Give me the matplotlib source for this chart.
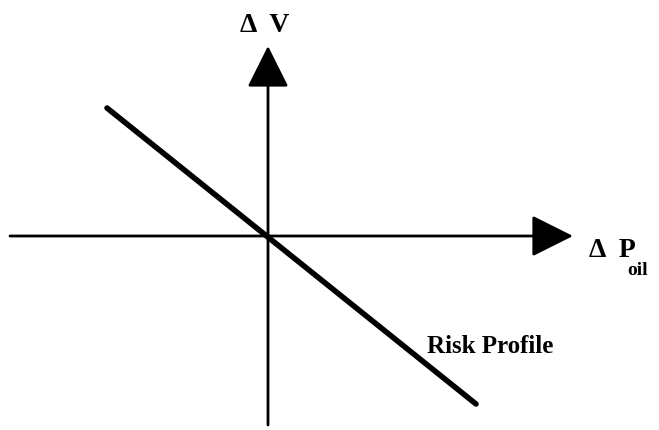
import matplotlib.pyplot as plt

# axes extents (origin at the crossing), in diagram units
x_axis = [-258, 305]
y_axis = [-189, 190]

# risk profile line
risk_x = [-161, 208]
risk_y = [128, -168]

plt.rcParams['font.family'] = ['Liberation Serif', 'DejaVu Serif']

fig = plt.figure(figsize=(6.59, 4.30), dpi=100)
ax = fig.add_axes([0, 0, 1, 1])
ax.set_xlim(-268, 391)
ax.set_ylim(-194, 236)
ax.axis('off')

arrow = dict(arrowstyle='-|>,head_length=1.3,head_width=0.65', mutation_scale=20,
             color='black', lw=2.0, shrinkA=0, shrinkB=0)
ax.annotate('', xy=(x_axis[1], 0), xytext=(x_axis[0], 0), arrowprops=arrow)
ax.annotate('', xy=(0, y_axis[1]), xytext=(0, y_axis[0]), arrowprops=arrow)

ax.plot(risk_x, risk_y, color='black', lw=4, solid_capstyle='round')

ax.text(-3, 204, 'Δ  V', ha='center', va='baseline', fontsize=20, fontweight='bold')
ax.text(321, -21, 'Δ  P', ha='left', va='baseline', fontsize=20, fontweight='bold')
ax.text(359, -39, 'oil', ha='left', va='baseline', fontsize=14, fontweight='bold')
ax.text(159, -117, 'Risk Profile', ha='left', va='baseline', fontsize=18, fontweight='bold')

plt.savefig('out.png', dpi=100)
